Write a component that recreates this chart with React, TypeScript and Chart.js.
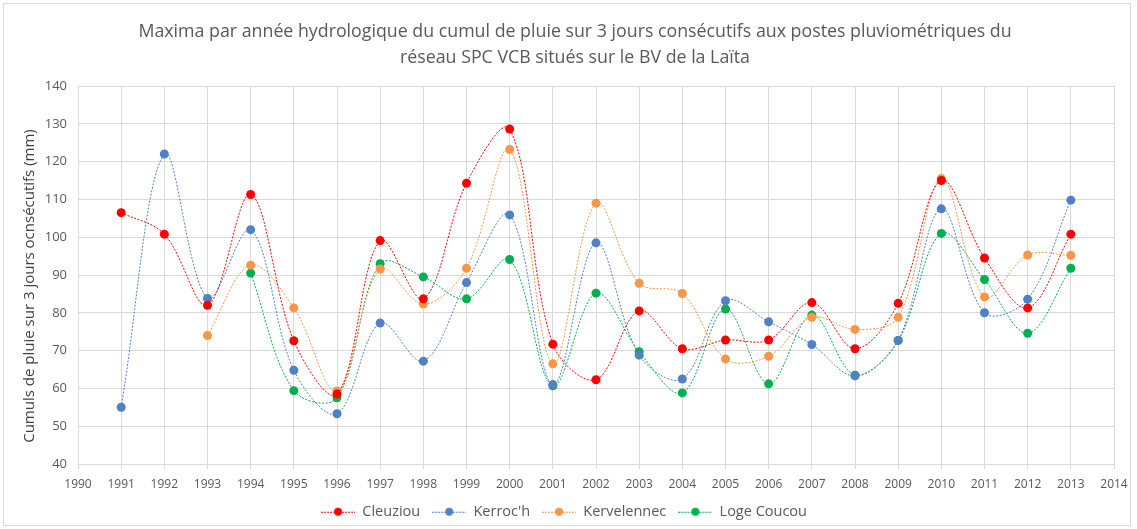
import React, { useEffect, useRef } from "react";
import { Chart, registerables } from "chart.js";

Chart.register(...registerables);

const years = [1991, 1992, 1993, 1994, 1995, 1996, 1997, 1998, 1999, 2000, 2001, 2002, 2003, 2004, 2005, 2006, 2007, 2008, 2009, 2010, 2011, 2012, 2013];

const cleuziou = [106.5, 100.8, 82, 111.3, 72.6, 58.5, 99.1, 83.7, 114.3, 128.6, 71.7, 62.3, 80.5, 70.5, 72.8, 72.8, 82.7, 70.5, 82.5, 115, 94.5, 81.3, 100.8];
const kerroch = [55, 122, 83.8, 102, 64.8, 53.3, 77.3, 67.2, 88, 105.9, 61, 98.5, 68.8, 62.5, 83.2, 77.6, 71.6, 63.3, 72.7, 107.5, 80, 83.6, 109.8];
const kervelennec = [null, null, 74, 92.6, 81.3, 59.3, 91.6, 82.3, 91.8, 123.2, 66.5, 109, 87.8, 85.1, 67.8, 68.5, 78.8, 75.6, 78.8, 115.5, 84.2, 95.3, 95.2];
const logeCoucou = [null, null, null, 90.5, 59.4, 57.5, 93, 89.5, 83.7, 94.1, 60.7, 85.2, 69.7, 58.8, 81, 61.2, 79.4, 63.5, 72.7, 101, 88.8, 74.6, 91.8];

const seriesNames = ["Cleuziou", "Kerroc'h", "Kervelennec", "Loge Coucou"];
const seriesColors = ["#FF0000", "#4F81C4", "#F79646", "#00B050"];
const seriesValues = [cleuziou, kerroch, kervelennec, logeCoucou];

const titleLines = [
  "Maxima par année hydrologique du cumul de pluie sur 3 jours consécutifs aux postes pluviométriques du",
  "réseau SPC VCB situés sur le BV de la Laïta",
];
const yTitle = "Cumuls de pluie sur 3 jours ocnsécutifs (mm)";

function legendIcon(color: string): HTMLCanvasElement {
  const c = document.createElement("canvas");
  c.width = 34;
  c.height = 10;
  const ctx = c.getContext("2d")!;
  ctx.strokeStyle = color;
  ctx.lineWidth = 1;
  ctx.setLineDash([2, 1]);
  ctx.beginPath();
  ctx.moveTo(0, 5.5);
  ctx.lineTo(34, 5.5);
  ctx.stroke();
  ctx.fillStyle = color;
  ctx.beginPath();
  ctx.arc(17, 5, 4, 0, Math.PI * 2);
  ctx.fill();
  return c;
}

const textPlugin = {
  id: "customText",
  afterDraw(chart: any) {
    const ctx = chart.ctx;
    ctx.save();
    ctx.fillStyle = "#595959";
    ctx.textAlign = "center";
    ctx.textBaseline = "middle";
    ctx.font = "17.8px 'Open Sans', sans-serif";
    ctx.fillText(titleLines[0], 575, 32);
    ctx.fillText(titleLines[1], 575, 58);
    ctx.translate(30, 286);
    ctx.rotate(-Math.PI / 2);
    ctx.fillStyle = "#404040";
    ctx.font = "15px 'Open Sans', sans-serif";
    ctx.fillText(yTitle, 0, 0);
    ctx.restore();
  },
};

export default function App() {
  const ref = useRef<HTMLCanvasElement>(null);
  useEffect(() => {
    const icons = seriesColors.map(legendIcon);
    const chart = new Chart(ref.current!, {
      type: "line",
      data: {
        datasets: seriesNames.map((name, i) => ({
          label: name,
          data: years
            .map((yr, j) => ({ x: yr, y: seriesValues[i][j] }))
            .filter((p) => p.y !== null) as any,
          borderColor: seriesColors[i],
          backgroundColor: seriesColors[i],
          borderWidth: 1,
          borderDash: [2, 1.5],
          pointRadius: 4.5,
          pointHoverRadius: 4.5,
          pointBorderWidth: 0,
          tension: 0.35,
          pointStyle: "circle",
        })),
      },
      plugins: [textPlugin],
      options: {
        animation: false,
        responsive: false,
        maintainAspectRatio: false,
        layout: { padding: { left: 14, right: 23, top: 86, bottom: 0 } },
        plugins: {
          title: { display: false },
          legend: {
            position: "bottom",
            labels: {
              usePointStyle: true,
              pointStyleWidth: 34,
              color: "#595959",
              font: { family: "'Open Sans', sans-serif", size: 14.5, lineHeight: 1.0 },
              padding: 12,
              generateLabels: (ch: any) =>
                ch.data.datasets.map((ds: any, i: number) => ({
                  text: ds.label,
                  pointStyle: icons[i],
                  fillStyle: seriesColors[i],
                  strokeStyle: seriesColors[i],
                  lineWidth: 0,
                  datasetIndex: i,
                  fontColor: "#595959",
                })),
            },
          },
          tooltip: { enabled: false },
        },
        scales: {
          x: {
            type: "linear",
            min: 1990,
            max: 2014,
            afterFit: (s: any) => {
              s.height = 28.5;
            },
            ticks: {
              stepSize: 1,
              color: "#595959",
              font: { family: "'Open Sans', sans-serif", size: 12 },
              callback: (v: any) => String(v),
              maxRotation: 0,
              autoSkip: false,
              padding: 8,
            },
            grid: { color: "#D9D9D9", tickLength: 5, tickColor: "#D9D9D9" },
            border: { color: "#D9D9D9" },
          },
          y: {
            min: 40,
            max: 140,
            afterFit: (s: any) => {
              s.width = 64;
            },
            ticks: {
              stepSize: 10,
              color: "#595959",
              font: { family: "'Open Sans', sans-serif", size: 13 },
              padding: 11,
            },
            grid: { color: "#D9D9D9", drawTicks: false },
            border: { color: "#D9D9D9" },
          },
        },
      },
    });
    return () => chart.destroy();
  }, []);
  return (
    <div
      style={{
        position: "fixed",
        left: 0,
        top: 0,
        width: 1137,
        height: 529,
        background: "#fff",
      }}
    >
      <div
        style={{
          position: "absolute",
          left: 3,
          top: 3,
          width: 1128,
          height: 523,
          border: "1px solid #D9D9D9",
          boxSizing: "border-box",
        }}
      />
      <canvas ref={ref} width={1137} height={529} style={{ position: "absolute", left: 0, top: 0 }} />
    </div>
  );
}
